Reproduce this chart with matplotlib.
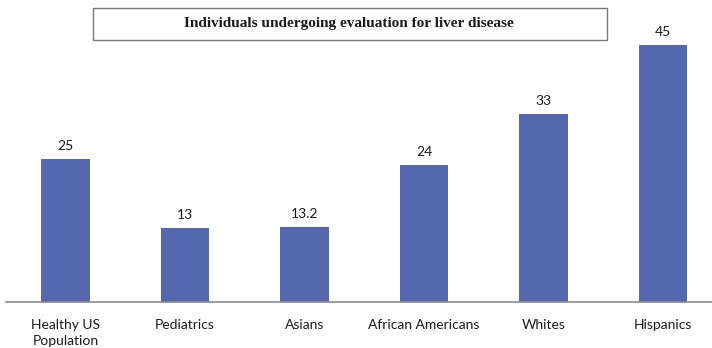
import matplotlib
matplotlib.use("Agg")
import matplotlib.pyplot as plt
from matplotlib.patches import Rectangle

categories = ["Healthy US\nPopulation", "Pediatrics", "Asians",
              "African Americans", "Whites", "Hispanics"]
values = [25, 13, 13.2, 24, 33, 45]
value_labels = ["25", "13", "13.2", "24", "33", "45"]
title = "Individuals undergoing evaluation for liver disease"

W, H = 712, 348
fig = plt.figure(figsize=(W / 100, H / 100), dpi=100)

# category slots are ~119.5 px wide, baseline at y=302, 45 units reach y=45
left = 5.75 / W
width = 6 * 119.5 / W
bottom = (H - 302) / H
height = (302 - 45) / H
ax = fig.add_axes([left, bottom, width, height])
ax.patch.set_alpha(0)

x = range(len(categories))
ax.bar(x, values, width=0.41, color="#5568ae", zorder=2)
ax.set_xlim(-0.5, 5.5)
ax.set_ylim(0, 45)

for xi, v, lab in zip(x, values, value_labels):
    ax.annotate(lab, (xi, v), xytext=(0, 5), textcoords="offset points",
                ha="center", va="bottom", fontsize=10, family="Lato",
                color="#1a1a1a")

for side in ["top", "right", "left"]:
    ax.spines[side].set_visible(False)
ax.spines["bottom"].set_color("#8c8c8c")
ax.spines["bottom"].set_linewidth(1.2)
ax.set_yticks([])
ax.set_xticks(list(x))
ax.set_xticklabels(categories, fontsize=10, family="Lato", color="#1a1a1a",
                   linespacing=1.4, va="top")
ax.tick_params(axis="x", length=0, pad=12)

# boxed title
fig.patches.append(Rectangle((93 / W, (H - 40) / H), (607 - 93) / W, 32 / H,
                             transform=fig.transFigure, fill=False,
                             edgecolor="#777777", linewidth=1.0))
fig.text(349 / W, (H - 24) / H, title, ha="center", va="center",
         fontsize=11, fontweight="bold", family="Liberation Serif",
         color="#1a1a1a")

fig.savefig("out.png", dpi=100)
